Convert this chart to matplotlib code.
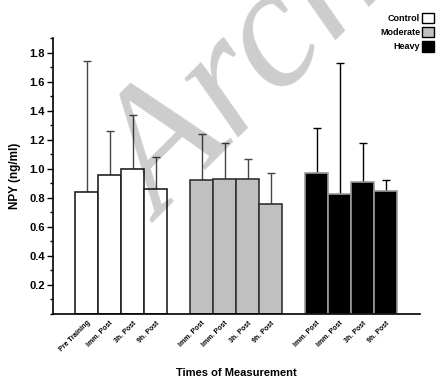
import matplotlib
matplotlib.use("Agg")
import matplotlib.pyplot as plt
from matplotlib import font_manager
from matplotlib.patches import Patch
from matplotlib.ticker import MultipleLocator
import numpy as np

groups = ["Control", "Moderate", "Heavy"]
tick_labels = ["Pre Training", "Imm. Post", "3h. Post", "9h. Post",
               "Imm. Post", "Imm. Post", "3h. Post", "9h. Post",
               "Imm. Post", "Imm. Post", "3h. Post", "9h. Post"]
control = [0.84, 0.96, 1.00, 0.86]
control_top = [1.74, 1.26, 1.37, 1.08]
moderate = [0.92, 0.93, 0.93, 0.76]
moderate_top = [1.24, 1.18, 1.07, 0.97]
heavy = [0.97, 0.826, 0.906, 0.846]
heavy_top = [1.28, 1.73, 1.18, 0.92]

plt.rcParams["font.family"] = ["Liberation Sans", "DejaVu Sans"]

fig = plt.figure(figsize=(4.39, 3.82), dpi=100)
W, H = 439, 382
ax = fig.add_axes([53 / W, (H - 314) / H, (420 - 53) / W, (314 - 38) / H])

styles = [
    dict(face="white", edge="#222222", err="#444444"),
    dict(face="#c0c0c0", edge="#333333", err="#444444"),
    dict(face="black", edge="#9a9a9a", err="black"),
]
data = [(control, control_top), (moderate, moderate_top), (heavy, heavy_top)]
positions = []
for gi, ((vals, tops), st, name) in enumerate(zip(data, styles, groups)):
    x = np.arange(4) + 1 + gi * 5
    positions.extend(x)
    vals = np.array(vals)
    tops = np.array(tops)
    ax.bar(x, vals, width=1.0, color=st["face"], edgecolor=st["edge"],
           linewidth=1.2, label=name, zorder=2)
    ax.errorbar(x, vals, yerr=[np.zeros_like(vals), tops - vals], fmt="none",
                ecolor=st["err"], elinewidth=1.0, capsize=3, capthick=1.0, zorder=1)

ax.set_xlim(-0.46, 15.5)
ax.set_ylim(0, 1.9)
ax.set_yticks([0.2, 0.4, 0.6, 0.8, 1.0, 1.2, 1.4, 1.6, 1.8])
ax.set_yticklabels(["0.2", "0.4", "0.6", "0.8", "1.0", "1.2", "1.4", "1.6", "1.8"],
                   fontweight="bold")
ax.yaxis.set_minor_locator(MultipleLocator(0.1))
ax.tick_params(axis="y", which="major", length=4, width=1, labelsize=8, pad=2)
ax.tick_params(axis="y", which="minor", length=2, width=1)
ax.set_xticks(positions)
ax.set_xticklabels(tick_labels, rotation=45, ha="right", rotation_mode="anchor",
                   fontsize=5, fontweight="bold")
ax.tick_params(axis="x", length=0, pad=4)
for s in ("top", "right"):
    ax.spines[s].set_visible(False)
for s in ("left", "bottom"):
    ax.spines[s].set_linewidth(1.2)

ax.set_ylabel("NPY (ng/ml)", fontsize=8.5, fontweight="bold", labelpad=6)
ax.set_xlabel("Times of Measurement", fontsize=8, fontweight="bold")
ax.xaxis.set_label_coords(0.5, -0.214)
ax.xaxis.label.set_va("center")

handles = [Patch(facecolor=st["face"], edgecolor="black", linewidth=1.0)
           for st in styles]
fig.legend(handles, groups, loc="upper right", bbox_to_anchor=(434 / W, 1 - 13 / H),
           frameon=False, markerfirst=False, handlelength=1.35,
           handleheight=1.35, handletextpad=0.2, labelspacing=0.45,
           borderaxespad=0, borderpad=0, prop=dict(size=6.5, weight="bold"))

# watermark overlay (semi-transparent, on top of the bars)
wm_family = "Liberation Serif"
found = font_manager.findfont(font_manager.FontProperties(family=wm_family, style="italic"),
                              fallback_to_default=True)
if "italic" not in found.lower():
    wm_family = "DejaVu Serif"
fig.text(162 / W, 1 - 224 / H, "Archives", fontsize=125, family=wm_family,
         style="italic", fontweight="normal", color="black", alpha=0.2,
         rotation=45, rotation_mode="anchor", ha="left", va="baseline", zorder=5)

fig.savefig("out.png", dpi=100)
